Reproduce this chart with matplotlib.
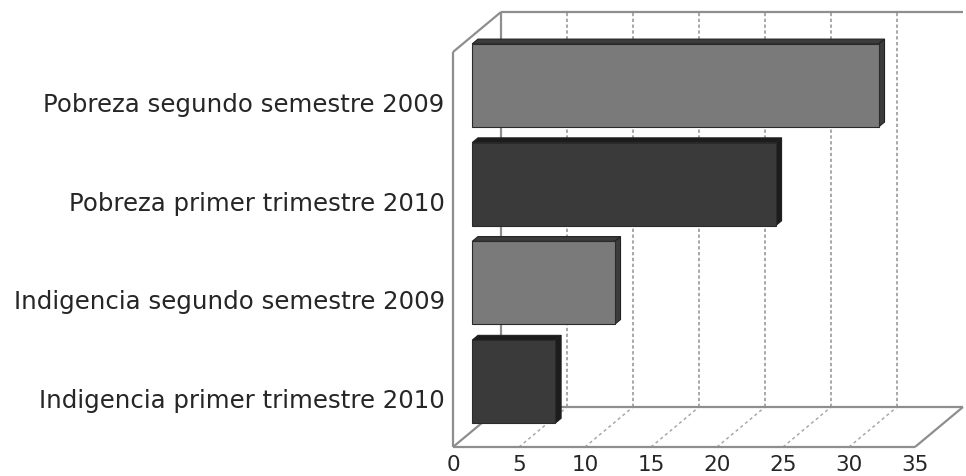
import matplotlib
matplotlib.use("Agg")
import matplotlib.pyplot as plt
from matplotlib.patches import Polygon

# datos (de arriba hacia abajo en el grafico)
categorias = ["Pobreza segundo semestre 2009",
              "Pobreza primer trimestre 2010",
              "Indigencia segundo semestre 2009",
              "Indigencia primer trimestre 2010"]
valores = [30.8, 23.0, 10.8, 6.3]
colores = ["#7a7a7a", "#3a3a3a", "#7a7a7a", "#3a3a3a"]
lados = ["#3c3c3c", "#1c1c1c", "#3c3c3c", "#1c1c1c"]
ticks = [0, 5, 10, 15, 20, 25, 30, 35]

W, H = 966, 477
fig = plt.figure(figsize=(W / 100, H / 100), dpi=100)
ax_l, ax_r, ax_b, ax_t = 453, 915, 448, 53
ax = fig.add_axes([ax_l / W, (H - ax_b) / H, (ax_r - ax_l) / W, (ax_b - ax_t) / H])
XMAX = 35
ax.set_xlim(0, XMAX)
ax.set_ylim(-0.5, 3.5)

# profundidad 3D (pixeles) -> unidades de datos
DX = 48 / ((ax_r - ax_l) / XMAX)
DY = 40 / ((ax_b - ax_t) / 4)


def p(x, y, d):
    return (x + d * DX, y + d * DY)


gris = "#8e8e8e"
lw = 1.6

# grilla en pared de fondo y en el piso
for t in ticks[1:-1]:
    x0, y0 = p(t, -0.5, 1)
    x1, y1 = p(t, 3.5, 1)
    ax.plot([x0, x1], [y0, y1], color="#9a9a9a", lw=1.2, ls=(0, (2, 1.5)), clip_on=False, zorder=1)
for t in ticks[1:-1]:
    a = p(t, -0.5, 0)
    b = p(t, -0.5, 1)
    ax.plot([a[0], b[0]], [a[1], b[1]], color="#a8a8a8", lw=1.1, ls=(0, (2, 2)), clip_on=False, zorder=1)

# bordes de paredes y piso
bordes = [
    (p(0, -0.5, 0), p(XMAX, -0.5, 0)),
    (p(0, -0.5, 1), p(XMAX, -0.5, 1)),
    (p(XMAX, -0.5, 0), p(XMAX, -0.5, 1)),
    (p(0, -0.5, 0), p(0, 3.5, 0)),
    (p(0, -0.5, 0), p(0, -0.5, 1)),
    (p(0, 3.5, 0), p(0, 3.5, 1)),
    (p(0, -0.5, 1), p(0, 3.5, 1)),
    (p(0, 3.5, 1), p(XMAX, 3.5, 1)),
]
for a, b in bordes:
    ax.plot([a[0], b[0]], [a[1], b[1]], color=gris, lw=lw, clip_on=False,
            solid_capstyle="butt", zorder=1.5)

# barras 3D
d0, d1 = 0.4, 0.52
alto = 0.42
for i, (v, c, s) in enumerate(zip(valores, colores, lados)):
    y = 3 - i
    frente = [p(0, y - alto, d0), p(v, y - alto, d0), p(v, y + alto, d0), p(0, y + alto, d0)]
    arriba = [p(0, y + alto, d0), p(v, y + alto, d0), p(v, y + alto, d1), p(0, y + alto, d1)]
    lado = [p(v, y - alto, d0), p(v, y - alto, d1), p(v, y + alto, d1), p(v, y + alto, d0)]
    ax.add_patch(Polygon(arriba, closed=True, facecolor=s, edgecolor="#222222", lw=0.8, clip_on=False, zorder=3))
    ax.add_patch(Polygon(lado, closed=True, facecolor=s, edgecolor="#222222", lw=0.8, clip_on=False, zorder=3))
    ax.add_patch(Polygon(frente, closed=True, facecolor=c, edgecolor="#2a2a2a", lw=0.8, clip_on=False, zorder=4))

# etiquetas
ax.set_yticks([3, 2, 1, 0])
ax.set_yticklabels(categorias)
ax.set_xticks(ticks)
ax.set_xticklabels([str(t) for t in ticks])
ax.tick_params(axis="both", length=0, labelcolor="#262626")
ax.tick_params(axis="y", pad=6, labelsize=17.6)
ax.tick_params(axis="x", pad=5, labelsize=15.5)
for sp in ax.spines.values():
    sp.set_visible(False)
ax.patch.set_alpha(0)

fig.savefig("out.png", dpi=100)
